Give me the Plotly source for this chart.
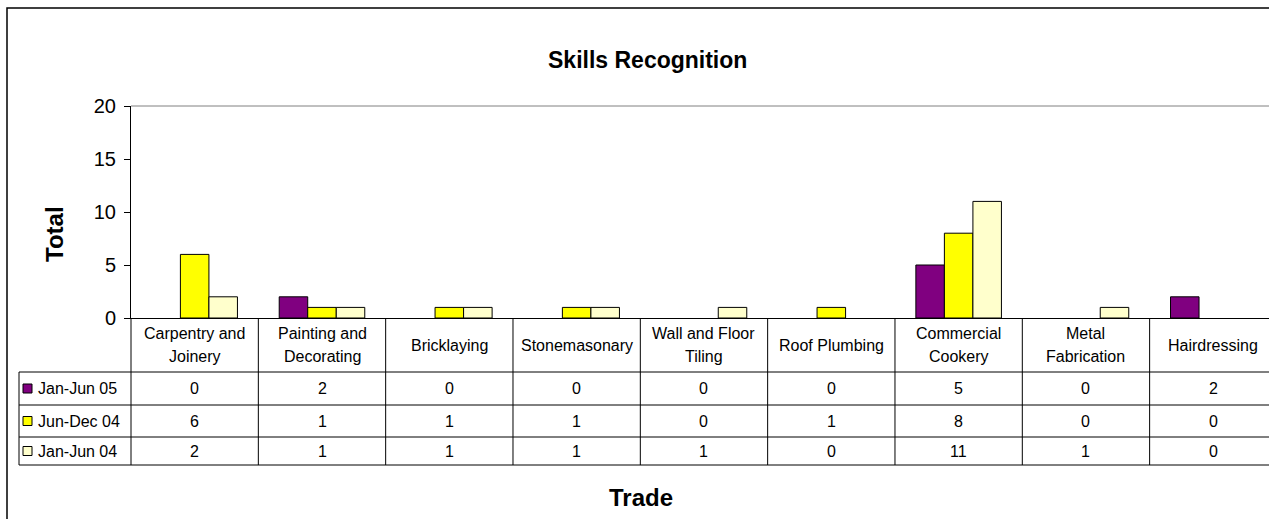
import plotly.graph_objects as go

# ---- data ----
categories = [
    "Carpentry and<br>Joinery",
    "Painting and<br>Decorating",
    "Bricklaying",
    "Stonemasonary",
    "Wall and Floor<br>Tiling",
    "Roof Plumbing",
    "Commercial<br>Cookery",
    "Metal<br>Fabrication",
    "Hairdressing",
]
series_names = ["Jan-Jun 05", "Jun-Dec 04", "Jan-Jun 04"]
jan_jun_05 = [0, 2, 0, 0, 0, 0, 5, 0, 2]
jun_dec_04 = [6, 1, 1, 1, 0, 1, 8, 0, 0]
jan_jun_04 = [2, 1, 1, 1, 1, 0, 11, 1, 0]
series_values = [jan_jun_05, jun_dec_04, jan_jun_04]
colors = ["#800080", "#FFFF00", "#FFFFCC"]
y_ticks = [0, 5, 10, 15, 20]

# ---- geometry ----
W, H = 1269, 519
L, R, T, B = 131, 0, 106, 201
PW, PH = W - L - R, H - T - B
COL = 127.33
xr = [-0.5, -0.5 + PW / COL]
FONT = "Liberation Sans, Arial, sans-serif"


def px(xp):
    return (xp - L) / PW


def py(yp):
    return (H - B - yp) / PH


def xval_to_paper(v):
    return (v - xr[0]) / (xr[1] - xr[0])


x_idx = list(range(len(categories)))

fig = go.Figure()
for name, vals, c in zip(series_names, series_values, colors):
    fig.add_trace(go.Bar(
        x=x_idx, y=vals, name=name,
        marker=dict(color=c, line=dict(color="black",
                                       width=[1 if v else 0 for v in vals])),
        showlegend=False, hoverinfo="skip",
    ))

shapes = []
line_k = dict(color="black", width=1)
# outer chart border
shapes.append(dict(type="rect", xref="paper", yref="paper",
                   x0=px(7), x1=px(1320), y0=py(8), y1=py(600),
                   line=dict(color="black", width=1.5)))
# top plot-area border
shapes.append(dict(type="line", xref="paper", yref="paper",
                   x0=0, x1=px(1320), y0=1, y1=1,
                   line=dict(color="#808080", width=1)))
# table horizontal lines
row_lines = [372, 405, 437, 465]
for yl in row_lines:
    shapes.append(dict(type="line", xref="paper", yref="paper",
                       x0=px(19), x1=px(1320), y0=py(yl), y1=py(yl), line=line_k))
# left border of legend column
shapes.append(dict(type="line", xref="paper", yref="paper",
                   x0=px(19), x1=px(19), y0=py(372), y1=py(465), line=line_k))
# column boundaries
for k in range(len(categories) + 1):
    xp = xval_to_paper(k - 0.5)
    shapes.append(dict(type="line", xref="paper", yref="paper",
                       x0=xp, x1=xp, y0=py(318), y1=py(465), line=line_k))

row_centers = [388.5, 421, 451]
annotations = []
# legend keys inside the table
for name, c, yc in zip(series_names, colors, row_centers):
    shapes.append(dict(type="rect", xref="paper", yref="paper",
                       x0=px(23), x1=px(32), y0=py(yc - 4.5), y1=py(yc + 4.5),
                       fillcolor=c, line=dict(color="black", width=1)))
    annotations.append(dict(xref="paper", yref="paper", x=px(36), y=py(yc),
                            text=name, showarrow=False, xanchor="left", yanchor="middle",
                            font=dict(family=FONT, size=16, color="black")))

# header (category) labels
for i, cat in enumerate(categories):
    parts = cat.split("<br>")
    if len(parts) == 1:
        ys = [345]
    else:
        ys = [333, 356]
    for part, yy in zip(parts, ys):
        annotations.append(dict(xref="x", yref="paper", x=i, y=py(yy), text=part,
                                showarrow=False, xanchor="center", yanchor="middle",
                                font=dict(family=FONT, size=16, color="black")))

# data values
for vals, yc in zip(series_values, row_centers):
    for i, v in enumerate(vals):
        annotations.append(dict(xref="x", yref="paper", x=i, y=py(yc), text=str(v),
                                showarrow=False, xanchor="center", yanchor="middle",
                                font=dict(family=FONT, size=16, color="black")))

# titles
annotations.append(dict(xref="paper", yref="paper", x=px(647), y=py(60),
                        text="<b>Skills Recognition</b>", showarrow=False,
                        xanchor="center", yanchor="middle",
                        font=dict(family=FONT, size=23, color="black")))
annotations.append(dict(xref="paper", yref="paper", x=px(641), y=py(497),
                        text="<b>Trade</b>", showarrow=False,
                        xanchor="center", yanchor="middle",
                        font=dict(family=FONT, size=24, color="black")))
annotations.append(dict(xref="paper", yref="paper", x=px(54), y=py(234),
                        text="<b>Total</b>", showarrow=False, textangle=-90,
                        xanchor="center", yanchor="middle",
                        font=dict(family=FONT, size=24, color="black")))

fig.update_layout(
    width=W, height=H,
    margin=dict(l=L, r=R, t=T, b=B, pad=0),
    paper_bgcolor="white", plot_bgcolor="white",
    barmode="group", bargap=0.328, bargroupgap=0,
    font=dict(family=FONT, color="black"),
    hovermode=False,
    xaxis=dict(range=xr, showline=True, linecolor="black", linewidth=1,
               showticklabels=False, ticks="", showgrid=False, zeroline=False),
    yaxis=dict(range=[0, 20], tickvals=y_ticks, showline=True, linecolor="black",
               linewidth=1, ticks="outside", ticklen=6, tickcolor="black",
               ticklabelstandoff=4,
               tickfont=dict(family=FONT, size=20, color="black"),
               showgrid=False, zeroline=False),
    shapes=shapes,
    annotations=annotations,
)

fig.write_html(
    "out.html",
    config={"displayModeBar": False},
    post_script="document.body.style.margin='0';document.body.style.overflow='hidden';",
)
